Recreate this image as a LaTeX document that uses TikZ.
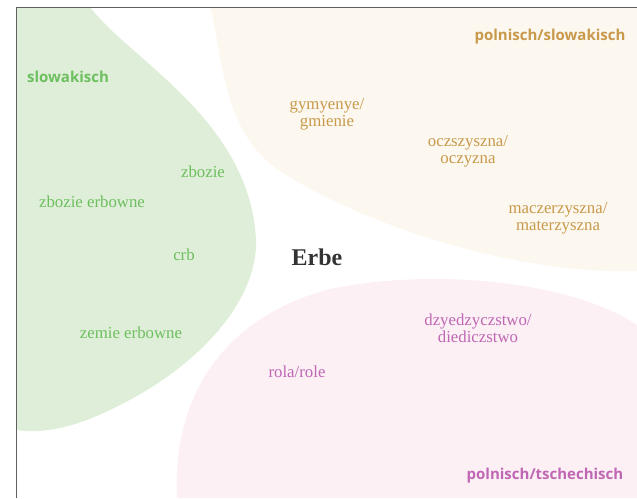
\documentclass[tikz,border=0pt]{standalone}
\usepackage{fontspec}
\setmainfont{Liberation Serif}
\newfontfamily\labelfont{Open Sans}
\definecolor{slgreen}{HTML}{6DBF5F}
\definecolor{slgreenbg}{HTML}{DFEED8}
\definecolor{plbrown}{HTML}{C8994A}
\definecolor{plbrownbg}{HTML}{FCF8F0}
\definecolor{plpink}{HTML}{BF67B4}
\definecolor{plpinkbg}{HTML}{FCF0F5}
\tikzset{
	region/.style={font=\labelfont\bfseries\fontsize{15}{17}\selectfont},
	word/.style={font=\fontsize{16.8}{17}\selectfont,align=center,inner sep=0pt},
}

\begin{document}
\begin{tikzpicture}[x=1pt,y=-1pt]
		\useasboundingbox (0,0) rectangle (637,498);
		% areas
		\fill[slgreenbg] (16,7) -- (90,7) .. controls (130,60) and (250,120) .. (256,240) .. controls (258,300) and (200,365) .. (120,405) .. controls (85,423) and (50,435) .. (16,430) -- cycle;
		\fill[plbrownbg] (210,7) .. controls (224,60) and (222,135) .. (283,173) .. controls (370,228) and (520,275) .. (637,271) -- (637,7) -- cycle;
		\fill[plpinkbg] (177,498) .. controls (172,400) and (220,318) .. (330,289) .. controls (430,268) and (570,280) .. (637,325) -- (637,498) -- cycle;
		\draw[gray!75!black,line width=0.8pt] (16,498) -- (16,7) -- (637,7);
		% labels
		\node[region,text=slgreen] (slk) at (68,77) {slowakisch};
		\node[region,text=plbrown] (plsk) at (550,37) {polnisch/slowakisch};
		\node[region,text=plpink] (plcz) at (545,476) {polnisch/tschechisch};
		\node[font=\bfseries\fontsize{24}{26}\selectfont,text=black!80] (erbe) at (317,257) {Erbe};
		% slowakisch
		\node[word,text=slgreen] (zbozie) at (203,172) {zbozie};
		\node[word,text=slgreen] (zbozieerb) at (92,202) {zbozie erbowne};
		\node[word,text=slgreen] (crb) at (184,255) {crb};
		\node[word,text=slgreen] (zemie) at (131,333) {zemie erbowne};
		% polnisch/slowakisch
		\node[word,text=plbrown] (gmienie) at (327,114) {gymyenye/\\gmienie};
		\node[word,text=plbrown] (oczyzna) at (468,151) {oczszyszna/\\oczyzna};
		\node[word,text=plbrown] (materz) at (558,218) {maczerzyszna/\\materzyszna};
		% polnisch/tschechisch
		\node[word,text=plpink] (dziedz) at (478,328) {dzyedzyczstwo/\\diediczstwo};
		\node[word,text=plpink] (rola) at (297,372) {rola/role};
 	 \end{tikzpicture}
\end{document}
